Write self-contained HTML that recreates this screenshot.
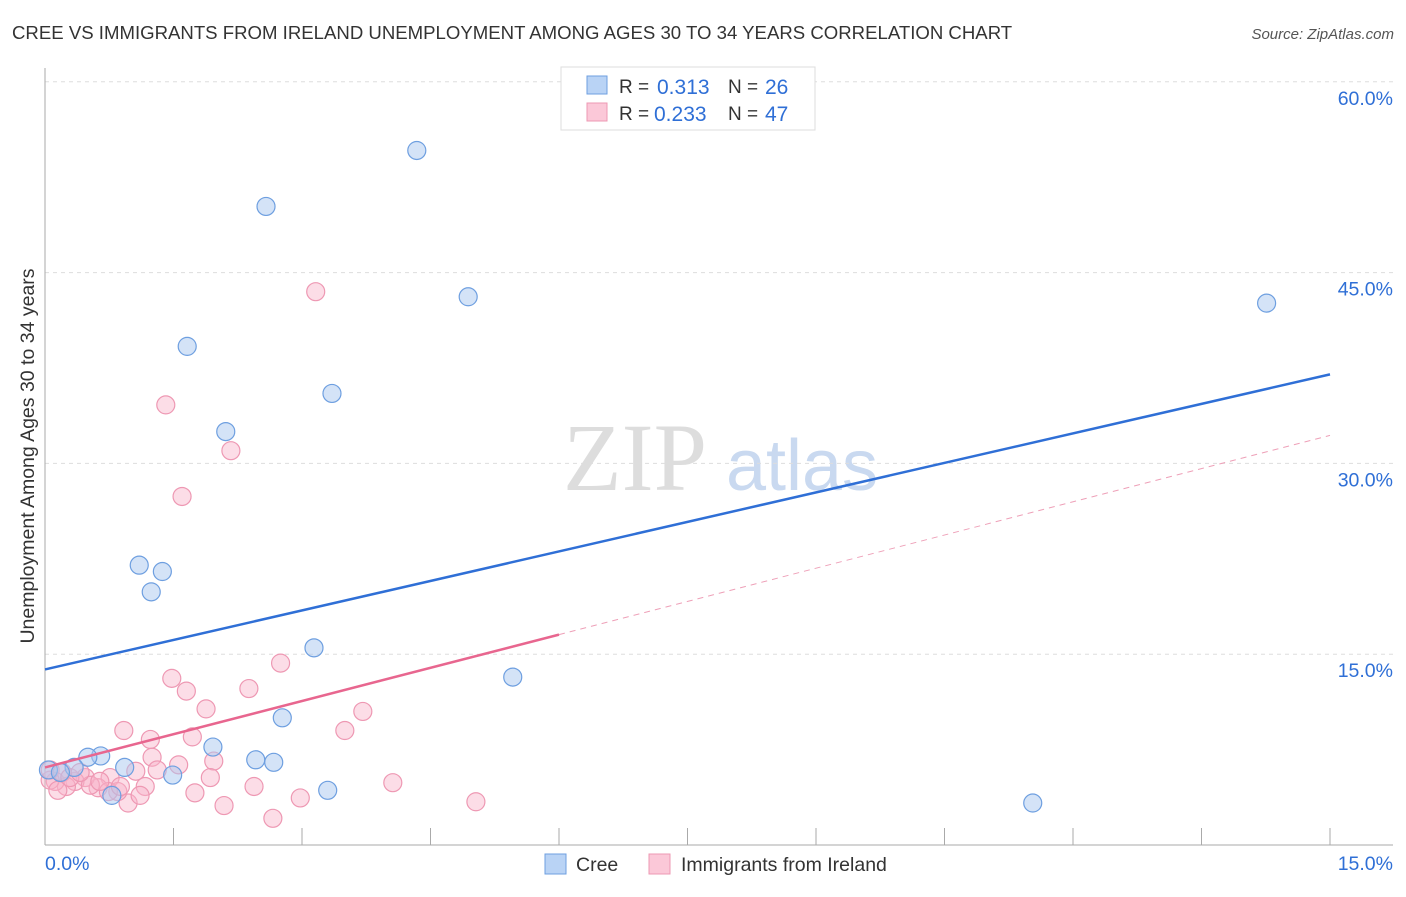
<!DOCTYPE html>
<html><head><meta charset="utf-8"><style>
body{margin:0;background:#fff;font-family:"Liberation Sans",sans-serif}
</style></head><body>
<svg width="1406" height="892" xmlns="http://www.w3.org/2000/svg">
<text x="12" y="39" font-size="18.6" fill="#333">CREE VS IMMIGRANTS FROM IRELAND UNEMPLOYMENT AMONG AGES 30 TO 34 YEARS CORRELATION CHART</text>
<text x="1394" y="39" font-size="15" fill="#555" font-style="italic" text-anchor="end">Source: ZipAtlas.com</text>
<g>
<text x="635" y="490" font-size="96" font-family="Liberation Serif,serif" fill="#ddd" text-anchor="middle">ZIP</text>
<text x="802" y="490" font-size="72" fill="#c9d9f0" text-anchor="middle">atlas</text></g>
<g id="grid"></g><g id="axes"></g><g id="marks"></g>
<text transform="translate(34,456) rotate(-90)" font-size="19.5" fill="#333" text-anchor="middle">Unemployment Among Ages 30 to 34 years</text>
<g>
<rect x="561" y="67" width="254" height="63" fill="#fff" stroke="#ddd"/>
<rect x="587" y="76" width="20" height="18" fill="#b9d3f5" stroke="#6e9fe0"/>
<rect x="587" y="103" width="20" height="18" fill="#fbc8d8" stroke="#ee98b3"/>
<text x="619" y="93" font-size="19" fill="#333">R = </text><text x="657" y="94" font-size="21" fill="#2f6fd6">0.313</text>
<text x="728" y="93" font-size="19" fill="#333">N = </text><text x="765" y="94" font-size="21" fill="#2f6fd6">26</text>
<text x="619" y="120" font-size="19" fill="#333">R = </text><text x="654" y="121" font-size="21" fill="#2f6fd6">0.233</text>
<text x="728" y="120" font-size="19" fill="#333">N = </text><text x="765" y="121" font-size="21" fill="#2f6fd6">47</text>
</g>
<g>
<rect x="545" y="854" width="21" height="20" fill="#b9d3f5" stroke="#6e9fe0"/>
<text x="576" y="871" font-size="19.5" fill="#333">Cree</text>
<rect x="649" y="854" width="21" height="20" fill="#fbc8d8" stroke="#ee98b3"/>
<text x="681" y="871" font-size="19.5" fill="#333">Immigrants from Ireland</text>
</g>
</svg>
<script>
const yTicks=[15,30,45,60];
const yTickLabels=["15.0%","30.0%","45.0%","60.0%"];
const xTicks=[1.5,3,4.5,6,7.5,9,10.5,12,13.5,15];
const creeX=[4.34,2.58,4.94,14.26,1.66,3.35,2.11,1.10,1.37,1.24,3.14,5.46,2.77,1.96,2.46,2.67,0.65,0.50,0.34,0.93,1.49,0.78,3.30,11.53,0.04,0.18];
const creeY=[54.6,50.2,43.1,42.6,39.2,35.5,32.5,22.0,21.5,19.9,15.5,13.2,10.0,7.7,6.7,6.5,7.0,6.9,6.1,6.1,5.5,3.9,4.3,3.3,5.9,5.7];
const irlX=[3.16,1.41,2.17,1.60,2.75,1.48,1.65,2.38,1.88,3.71,0.92,3.50,1.23,1.72,1.25,1.97,1.56,1.06,1.31,1.93,2.44,1.17,1.75,0.97,2.09,2.66,2.98,4.06,5.03,0.76,0.85,0.62,0.47,0.35,0.25,0.12,0.06,0.06,0.20,0.29,0.74,0.88,0.53,0.64,1.11,0.15,0.41];
const irlY=[43.5,34.6,31.0,27.4,14.3,13.1,12.1,12.3,10.7,10.5,9.0,9.0,8.3,8.5,6.9,6.6,6.3,5.8,5.9,5.3,4.6,4.6,4.1,3.3,3.1,2.1,3.7,4.9,3.4,5.3,4.2,4.5,5.3,5.0,4.6,5.0,5.1,5.9,5.7,5.3,4.2,4.6,4.7,5.0,3.9,4.3,5.7];
const creeTrend=[13.8,37.0];
const irlTrend=[6.1,32.2];
const irlSolidEnd=6.0;
const X=v=>45+v*(1285/15), Y=v=>845-v*12.72;
const NS="http://www.w3.org/2000/svg";
function mk(t,a,p){const e=document.createElementNS(NS,t);for(const k in a)e.setAttribute(k,a[k]);document.getElementById(p).appendChild(e);return e;}
yTicks.forEach((t,i)=>{
 const g=mk('line',{x1:45,x2:1393,y1:Y(t),y2:Y(t),stroke:'#ddd','stroke-dasharray':'4,4'},'grid');
 
 
 const l=mk('text',{x:1393,y:Y(t)+23,'font-size':19.5,fill:'#2f6fd6','text-anchor':'end'},'axes');l.textContent=yTickLabels[i];
 
 
});
const ya=mk('line',{x1:45,x2:45,y1:68,y2:845,stroke:'#aaa'},'axes');


const xa=mk('line',{x1:45,x2:1393,y1:845,y2:845,stroke:'#aaa'},'axes');


xTicks.forEach(t=>{const e=mk('line',{x1:X(t),x2:X(t),y1:828,y2:845,stroke:'#aaa'},'axes');
 
 });
const x0=mk('text',{x:45,y:870,'font-size':19.5,fill:'#2f6fd6'},'axes');x0.textContent='0.0%';


const x1=mk('text',{x:1393,y:870,'font-size':19.5,fill:'#2f6fd6','text-anchor':'end'},'axes');x1.textContent='15.0%';


irlX.forEach((v,i)=>{const c=mk('circle',{cx:X(v),cy:Y(irlY[i]),r:9,fill:'rgba(248,180,202,0.45)',stroke:'#ee98b3','stroke-width':1.2},'marks');
 
 });
creeX.forEach((v,i)=>{const c=mk('circle',{cx:X(v),cy:Y(creeY[i]),r:9,fill:'rgba(170,200,240,0.5)',stroke:'#6e9fe0','stroke-width':1.2},'marks');
 
 });
const bt=mk('line',{x1:X(0),y1:Y(creeTrend[0]),x2:X(15),y2:Y(creeTrend[1]),stroke:'#2f6fd6','stroke-width':2.5},'marks');


const ym=irlTrend[0]+(irlTrend[1]-irlTrend[0])*irlSolidEnd/15;
const pt=mk('line',{x1:X(0),y1:Y(irlTrend[0]),x2:X(irlSolidEnd),y2:Y(ym),stroke:'#e8668f','stroke-width':2.5},'marks');


const pd=mk('line',{x1:X(irlSolidEnd),y1:Y(ym),x2:X(15),y2:Y(irlTrend[1]),stroke:'#eea0b8','stroke-width':1,'stroke-dasharray':'6,5'},'marks');


</script>
</body></html>
